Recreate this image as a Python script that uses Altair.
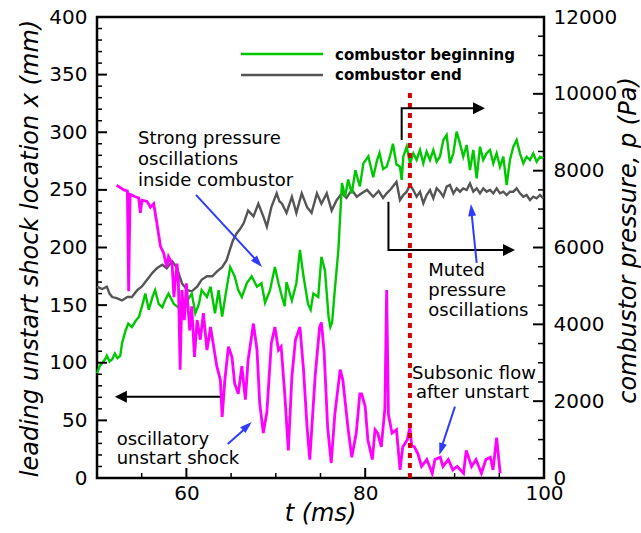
import altair as alt
import pandas as pd

# ---------------- data ----------------
shock_t = [52.2, 52.6, 53.0, 53.4, 53.54, 53.7, 54.3, 54.66, 54.85, 55.03, 55.6, 55.97, 56.34, 56.7, 57.1,
           57.46, 57.8, 58.0, 58.4, 58.6, 58.95, 59.1, 59.3, 59.5, 59.77, 60.0, 60.37, 60.6, 60.9, 61.2,
           61.56, 61.9, 62.3, 62.7, 63.05, 63.4, 63.8, 64.0, 64.3, 64.7, 65.1, 65.4, 65.8, 66.2, 66.6,
           66.9, 67.5, 67.9, 68.2, 68.6, 69.0, 69.5, 69.9, 70.3, 70.6, 71.0, 71.4, 71.8, 72.2, 72.7,
           73.1, 73.5, 73.8, 74.4, 74.9, 75.1, 75.4, 75.8, 76.2, 76.6, 77.2, 77.5, 77.9, 78.1, 78.5,
           79.0, 79.4, 79.6, 80.0, 80.3, 80.8, 81.1, 81.4, 81.8, 82.2, 82.4, 82.6, 83.0, 83.5, 83.9,
           84.2, 84.7, 85.0, 85.2, 85.5, 85.9, 86.3, 86.9, 87.5, 87.8, 88.4, 88.7, 89.3, 89.8, 90.3,
           91.0, 91.3, 91.9, 92.4, 93.0, 93.5, 94.0, 94.3, 94.7, 95.1]
shock_x = [254, 252, 250, 249, 162, 246, 244, 243, 230, 241, 240, 235, 238, 221, 201,
           195, 183, 192, 186, 157, 186, 172, 94, 163, 137, 169, 128, 149, 105, 137,
           120, 143, 111, 131, 114, 97, 85, 53, 85, 114, 105, 82, 73, 97, 68,
           102, 134, 111, 65, 39, 57, 117, 131, 111, 114, 73, 24, 88, 120, 131,
           94, 44, 16, 88, 131, 135, 110, 44, 13, 55, 94, 85, 56, 42, 18,
           39, 73, 73, 62, 33, 16, 42, 39, 27, 60, 163, 55, 39, 42, 7,
           27, 33, 44, 28, 27, 21, 10, 16, 4, 16, 18, 10, 16, 7, 10,
           4, 24, 10, 16, 4, 16, 18, 7, 35, 4]

begin_t = [50.0, 50.3, 50.6, 50.9, 51.1, 51.4, 51.7, 52.0, 52.3, 52.6,
           52.8, 53.2, 53.5, 53.9, 54.3, 54.7, 55.0, 55.4, 55.8, 56.2,
           56.5, 56.9, 57.3, 57.6, 58.0, 58.6, 59.1, 59.7, 60.1, 60.6,
           61.0, 61.4, 61.7, 62.3, 62.7, 63.2, 63.6, 64.0, 64.4, 64.9,
           65.4, 65.8, 66.2, 66.75, 67.3, 67.9, 68.4, 68.8, 69.35, 69.9,
           70.3, 70.7, 71.0, 71.2, 71.8, 72.3, 72.7, 73.1, 73.6, 73.9,
           74.2, 74.75, 75.1, 75.5, 75.9, 76.1, 76.3, 76.6, 77.0, 77.4,
           77.75, 78.1, 78.5, 78.9, 79.4, 79.8, 80.35, 80.9, 81.3, 81.6,
           82.0, 82.4, 82.8, 83.1, 83.5,
           83.89, 84.08, 84.26, 84.64, 85.01, 85.38, 85.75, 86.13, 86.5, 86.87,
           87.25, 87.62, 87.99, 88.36, 88.74, 89.11, 89.48, 89.86, 90.23, 90.6,
           90.97, 91.35, 91.72, 92.09, 92.47, 92.84, 93.21, 93.58, 93.96, 94.33,
           94.7, 95.08, 95.45, 95.82, 96.19, 96.57, 96.94, 97.31, 97.69, 98.06,
           98.43, 98.8, 99.18, 99.55, 99.92]
begin_p = [2730, 2910, 3000, 3090, 3180, 3030, 3090, 3240, 3120, 3180,
           3510, 3840, 4020, 3930, 4080, 4200, 4440, 4800, 4380, 4710,
           4890, 4530, 4440, 4620, 4800, 4530, 4440, 4290, 4620, 4800,
           4290, 4530, 4890, 4710, 4980, 4290, 4890, 4200, 4800, 5490,
           5250, 4890, 4710, 5070, 5250, 4980, 5070, 4560, 4890, 5490,
           5070, 4710, 4470, 5100, 4620, 5070, 5940, 5250, 4530, 4380,
           4800, 4710, 5760, 5400, 4200, 3930, 4050, 4890, 5940, 7680,
           7320, 7770, 7410, 8010, 7590, 8190, 8370, 7830, 8250, 8460,
           8040, 8100, 8400, 8700, 8160,
           8104, 7757, 8363, 8624, 8191, 8452, 8278, 8538, 8191, 8494,
           8278, 8538, 8234, 8363, 8798, 8928, 8191, 8452, 9015, 8711,
           8363, 8668, 8017, 8538, 7800, 8624, 8278, 8452, 8538, 8191,
           8452, 8104, 8363, 7627, 8278, 8624, 8798, 8452, 8191, 8363,
           8278, 8452, 8234, 8363, 8321]

end_t = [50.0, 50.3, 50.6, 51.1, 51.4, 51.7, 52.2, 52.8, 53.4, 53.9,
         54.5, 55.0, 55.6, 56.2, 56.7, 57.3, 57.8, 58.4, 58.9, 59.5,
         60.1, 60.6, 61.2, 61.7, 62.3, 62.9, 63.4, 64.0, 64.5, 64.9,
         65.2, 65.6, 66.0, 66.4, 66.9, 67.5, 68.05, 68.6, 69.0, 69.5,
         70.1, 70.4, 70.7, 71.2, 71.8, 72.3, 72.9, 73.5, 74.0, 74.6,
         75.1, 75.7, 76.25, 76.8, 77.4, 77.9, 78.5, 79.05, 79.6, 80.2,
         80.9, 81.5, 82.0, 82.4, 82.9, 83.5,
         83.89, 84.26, 84.64, 85.01, 85.38, 85.75, 86.13, 86.5, 86.87, 87.25,
         87.62, 87.99, 88.36, 88.74, 89.11, 89.48, 89.86, 90.23, 90.6, 90.97,
         91.35, 91.72, 92.09, 92.47, 92.84, 93.21, 93.58, 93.96, 94.33, 94.7,
         95.08, 95.45, 95.82, 96.19, 96.57, 96.94, 97.31, 97.69, 98.06, 98.43,
         98.8, 99.18, 99.55, 99.92]
end_p = [4980, 4950, 4920, 4980, 4800, 4710, 4680, 4620, 4710, 4710,
         4890, 4980, 5160, 5340, 5460, 5550, 5460, 5640, 5490, 5070,
         4890, 4860, 4980, 5160, 5250, 5250, 5370, 5490, 5670, 5970,
         6180, 6360, 6480, 6630, 6960, 6810, 7140, 6810, 6540, 7050,
         7410, 7200, 7140, 6900, 7320, 6900, 7410, 7050, 6900, 7410,
         7140, 7410, 6960, 7230, 7410, 7290, 7500, 7320, 7410, 7500,
         7320, 7470, 7290, 7410, 7530, 7710,
         7236, 7366, 7453, 7627, 7497, 7323, 7453, 7150, 7366, 7497,
         7280, 7540, 7453, 7323, 7583, 7627, 7410, 7540, 7453, 7540,
         7497, 7670, 7453, 7540, 7410, 7540, 7453, 7497, 7410, 7540,
         7410, 7453, 7366, 7453, 7453, 7540, 7410, 7323, 7366, 7236,
         7323, 7280, 7366, 7280]

# tick values
left_major = [0, 50, 100, 150, 200, 250, 300, 350, 400]
left_minor = [10, 20, 30, 40, 60, 70, 80, 90, 110, 120, 130, 140, 160, 170, 180, 190,
              210, 220, 230, 240, 260, 270, 280, 290, 310, 320, 330, 340, 360, 370, 380, 390]
right_major = [0, 2000, 4000, 6000, 8000, 10000, 12000]
right_minor = [500, 1000, 1500, 2500, 3000, 3500, 4500, 5000, 5500, 6500, 7000, 7500,
               8500, 9000, 9500, 10500, 11000, 11500]
x_major = [60, 80, 100]
x_minor = [55, 65, 70, 75, 85, 90, 95]

# annotation texts (t, left-axis value of baseline)
note_text = ["Strong pressure", "oscillations", "inside combustor",
             "Muted", "pressure", "oscillations",
             "oscillatory", "unstart shock"]
note_t = [54.59, 54.59, 54.59, 87.06, 87.06, 87.06, 52.2, 52.2]
note_v = [289.8, 271.6, 253.4, 175.3, 157.9, 140.6, 28.6, 12.1]
sub_text = ["Subsonic flow", "after unstart"]
sub_t = [92.17, 92.0]
sub_v = [85.9, 69.0]

# ---------------- styling ----------------
FONT = "DejaVu Sans"
GREEN = "#00c800"
GRAY = "#555555"
MAGENTA = "#ff00ff"
BLUE = "#2e3cff"
RED = "#d10000"
W, H = 447, 461

x_axis = alt.Axis(values=x_major, title="t (ms)", format="d", labelFlush=False, labelOverlap=False,
                  labelPadding=5, titleX=223, titleY=42, titleBaseline="alphabetic", titleAlign="center")
left_axis = alt.Axis(values=left_major, title="leading unstart shock location x (mm)", format="d",
                     orient="left", labelPadding=10, labelOverlap=False,
                     titleAngle=270, titleX=-60, titleY=231, titleBaseline="alphabetic", titleAlign="center")
right_axis = alt.Axis(values=right_major, title="combustor pressure, p (Pa)", format="d",
                      orient="right", labelPadding=9, labelOverlap=False,
                      titleAngle=270, titleX=91, titleY=223, titleBaseline="alphabetic", titleAlign="center")

X = alt.X("t:Q", scale=alt.Scale(domain=[50, 100], nice=False, zero=False), axis=x_axis)
YL = alt.Y("v:Q", scale=alt.Scale(domain=[0, 400], nice=False, zero=False), axis=left_axis)
YR = alt.Y("p:Q", scale=alt.Scale(domain=[0, 12000], nice=False, zero=False), axis=right_axis)

one = pd.DataFrame({"k": [0]})

# ---------------- right (pressure) group ----------------
end_df = pd.DataFrame({"t": end_t, "p": end_p})
begin_df = pd.DataFrame({"t": begin_t, "p": begin_p})
gray_line = alt.Chart(end_df).mark_line(color=GRAY, strokeWidth=2.4).encode(x=X, y=YR)
green_line = alt.Chart(begin_df).mark_line(color=GREEN, strokeWidth=2.4).encode(x=X, y=YR)
r_major = alt.Chart(pd.DataFrame({"p": right_major})).mark_rule(color="black", strokeWidth=2).encode(
    y=YR, x=alt.value(W - 11), x2=alt.value(W))
r_minor = alt.Chart(pd.DataFrame({"p": right_minor})).mark_rule(color="black", strokeWidth=1.5).encode(
    y=YR, x=alt.value(W - 6), x2=alt.value(W))
right_group = alt.layer(gray_line, green_line, r_major, r_minor)

# ---------------- left (shock) group ----------------
shock_df = pd.DataFrame({"t": shock_t, "v": shock_x})
magenta_line = alt.Chart(shock_df).mark_line(color=MAGENTA, strokeWidth=2.8).encode(x=X, y=YL)

l_major = alt.Chart(pd.DataFrame({"v": left_major})).mark_rule(color="black", strokeWidth=2).encode(
    y=YL, x=alt.value(0), x2=alt.value(10))
l_minor = alt.Chart(pd.DataFrame({"v": left_minor})).mark_rule(color="black", strokeWidth=1.5).encode(
    y=YL, x=alt.value(0), x2=alt.value(5))
b_major = alt.Chart(pd.DataFrame({"t": x_major})).mark_rule(color="black", strokeWidth=2).encode(
    x=X, y=alt.value(H - 10), y2=alt.value(H))
b_minor = alt.Chart(pd.DataFrame({"t": x_minor})).mark_rule(color="black", strokeWidth=1.5).encode(
    x=X, y=alt.value(H - 5), y2=alt.value(H))

red_df = pd.DataFrame({"t": [85], "v": [0], "v2": [335]})
red_line = alt.Chart(red_df).mark_rule(color=RED, strokeWidth=4, strokeDash=[5, 5]).encode(
    x=X, y=YL, y2=alt.Y2("v2:Q"))

# black bracket arrows
blk_df = pd.DataFrame({
    "g": ["a", "a", "b", "b", "b", "c", "c", "c"],
    "o": [0, 1, 0, 1, 2, 0, 1, 2],
    "t": [63.76, 52.6, 84.08, 84.08, 92.9, 82.6, 82.6, 96.2],
    "v": [70.5, 70.5, 293.3, 320.8, 320.8, 239.7, 197.8, 197.8],
})
blk_lines = alt.Chart(blk_df).mark_line(color="black", strokeWidth=2).encode(
    x=X, y=YL, detail="g:N", order="o:Q")
blk_heads_df = pd.DataFrame({"t": [52.0, 93.4, 96.76], "v": [70.5, 320.8, 197.8], "ang": [270, 90, 90]})
blk_heads = alt.Chart(blk_heads_df).mark_point(
    shape="M0,0L0.9,1.8L-0.9,1.8Z", filled=True, opacity=1, size=178, color="black", strokeWidth=0).encode(
    x=X, y=YL, angle=alt.Angle("ang:Q", scale=None))

# blue arrows
blue_df = pd.DataFrame({
    "t": [61.07, 64.62, 92.47, 90.04],
    "v": [245.6, 29.5, 186.6, 61.9],
    "t2": [68.1, 67.0, 91.87, 88.45],
    "v2": [186.6, 45.8, 232.0, 24.5],
})
blue_lines = alt.Chart(blue_df).mark_rule(color=BLUE, strokeWidth=2).encode(
    x=X, y=YL, x2=alt.X2("t2:Q"), y2=alt.Y2("v2:Q"))
blue_heads_df = pd.DataFrame({"t": [68.46, 67.3, 91.83, 88.29], "v": [183, 48.6, 237.7, 20],
                              "ang": [137.9, 47.5, 354.5, 198]})
blue_heads = alt.Chart(blue_heads_df).mark_point(
    shape="M0,0L0.6,1.8L-0.6,1.8Z", filled=True, opacity=1, size=178, color=BLUE, strokeWidth=0).encode(
    x=X, y=YL, angle=alt.Angle("ang:Q", scale=None))

notes = alt.Chart(pd.DataFrame({"t": note_t, "v": note_v, "txt": note_text})).mark_text(
    align="left", baseline="alphabetic", font=FONT, fontSize=18, color="black").encode(
    x=X, y=YL, text="txt:N")
sub_notes = alt.Chart(pd.DataFrame({"t": sub_t, "v": sub_v, "txt": sub_text})).mark_text(
    align="center", baseline="alphabetic", font=FONT, fontSize=18, color="black").encode(
    x=X, y=YL, text="txt:N")

# manual legend
leg_green = alt.Chart(one).mark_rule(color=GREEN, strokeWidth=2.5).encode(
    x=alt.value(144), x2=alt.value(226), y=alt.value(37))
leg_gray = alt.Chart(one).mark_rule(color=GRAY, strokeWidth=2.5).encode(
    x=alt.value(144), x2=alt.value(226), y=alt.value(58))
leg_t1 = alt.Chart(one).mark_text(align="left", baseline="alphabetic", font=FONT, fontSize=15,
                                  fontWeight="bold", color="black").encode(
    x=alt.value(238), y=alt.value(43), text=alt.value("combustor beginning"))
leg_t2 = alt.Chart(one).mark_text(align="left", baseline="alphabetic", font=FONT, fontSize=15,
                                  fontWeight="bold", color="black").encode(
    x=alt.value(238), y=alt.value(63), text=alt.value("combustor end"))

left_group = alt.layer(magenta_line, l_major, l_minor, b_major, b_minor, red_line,
                       blk_lines, blk_heads, blue_lines, blue_heads, notes, sub_notes,
                       leg_green, leg_gray, leg_t1, leg_t2)

chart = alt.layer(right_group, left_group).resolve_scale(y="independent").properties(
    width=W, height=H,
    autosize=alt.AutoSizeParams(type="none"),
    padding={"left": 97, "top": 17, "right": 97, "bottom": 55},
    background="white",
).configure_axis(
    labelFont=FONT, labelFontSize=20, labelColor="black",
    titleFont=FONT, titleFontSize=24, titleColor="black", titleFontWeight="normal", titleFontStyle="italic",
    grid=False, domain=False, ticks=False,
).configure_view(stroke="black", strokeWidth=2.5)

chart.save("out.html", embed_options={"renderer": "svg", "actions": False})
